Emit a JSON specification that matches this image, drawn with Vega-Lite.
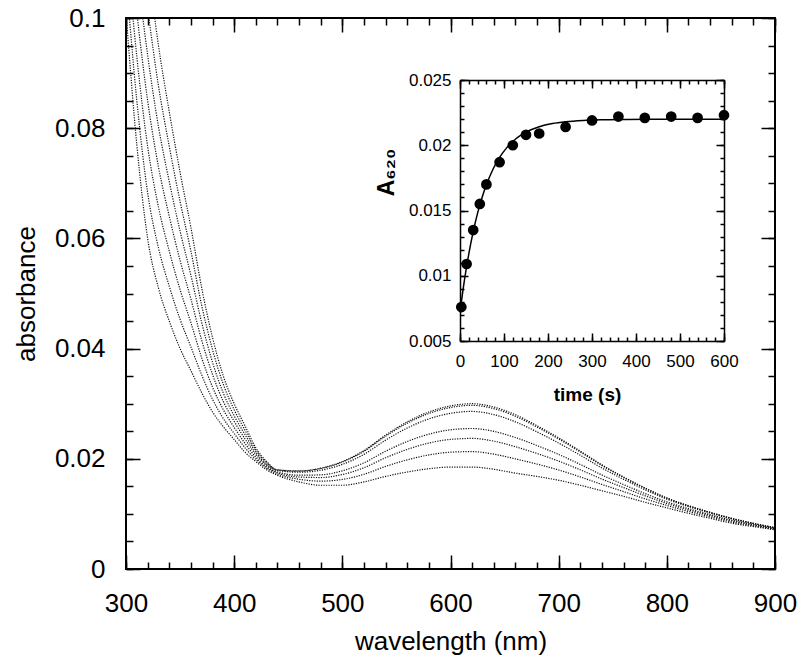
{
  "$schema": "https://vega.github.io/schema/vega-lite/v6.json",
  "width": 649,
  "height": 551,
  "autosize": {"type": "none"},
  "padding": {"left": 126, "top": 18, "right": 25, "bottom": 97},
  "background": "white",
  "datasets": {
    "spec": [
      {"w":300,"c1":0.101,"c2":0.1075,"c3":0.114,"c4":0.1205,"c5":0.127,"c6":0.1335,"c7":0.140},
      {"w":310,"c1":0.077,"c2":0.085,"c3":0.093,"c4":0.101,"c5":0.109,"c6":0.117,"c7":0.125},
      {"w":320,"c1":0.060,"c2":0.0683,"c3":0.0767,"c4":0.085,"c5":0.0933,"c6":0.1017,"c7":0.110},
      {"w":330,"c1":0.051,"c2":0.0583,"c3":0.0657,"c4":0.073,"c5":0.0803,"c6":0.0877,"c7":0.095},
      {"w":340,"c1":0.045,"c2":0.0513,"c3":0.0577,"c4":0.064,"c5":0.0703,"c6":0.0767,"c7":0.083},
      {"w":350,"c1":0.040,"c2":0.0453,"c3":0.0507,"c4":0.056,"c5":0.0613,"c6":0.0667,"c7":0.072},
      {"w":360,"c1":0.036,"c2":0.0403,"c3":0.0447,"c4":0.049,"c5":0.0533,"c6":0.0577,"c7":0.062},
      {"w":370,"c1":0.032,"c2":0.0352,"c3":0.0383,"c4":0.0415,"c5":0.0447,"c6":0.0478,"c7":0.051},
      {"w":380,"c1":0.0285,"c2":0.0308,"c3":0.033,"c4":0.0353,"c5":0.0375,"c6":0.0398,"c7":0.042},
      {"w":390,"c1":0.0258,"c2":0.0273,"c3":0.0289,"c4":0.0304,"c5":0.0319,"c6":0.0335,"c7":0.035},
      {"w":400,"c1":0.0235,"c2":0.0246,"c3":0.0257,"c4":0.0268,"c5":0.0278,"c6":0.0289,"c7":0.030},
      {"w":410,"c1":0.0212,"c2":0.022,"c3":0.0228,"c4":0.0236,"c5":0.0244,"c6":0.0252,"c7":0.026},
      {"w":420,"c1":0.0195,"c2":0.0199,"c3":0.0203,"c4":0.0208,"c5":0.0212,"c6":0.0216,"c7":0.022},
      {"w":430,"c1":0.018,"c2":0.0183,"c3":0.0185,"c4":0.0188,"c5":0.019,"c6":0.0193,"c7":0.0195},
      {"w":440,"c1":0.0170,"c2":0.01724,"c3":0.01745,"c4":0.01761,"c5":0.01788,"c6":0.01797,"c7":0.0180},
      {"w":460,"c1":0.0158,"c2":0.01629,"c3":0.0167,"c4":0.01702,"c5":0.01756,"c6":0.01775,"c7":0.0178},
      {"w":480,"c1":0.0152,"c2":0.01595,"c3":0.0166,"c4":0.01709,"c5":0.01792,"c6":0.01822,"c7":0.0183},
      {"w":500,"c1":0.0152,"c2":0.01625,"c3":0.01714,"c4":0.01782,"c5":0.01898,"c6":0.01939,"c7":0.0195},
      {"w":520,"c1":0.0158,"c2":0.01719,"c3":0.01838,"c4":0.01927,"c5":0.0208,"c6":0.02135,"c7":0.0215},
      {"w":540,"c1":0.0168,"c2":0.01862,"c3":0.02019,"c4":0.02137,"c5":0.02339,"c6":0.0241,"c7":0.0243},
      {"w":560,"c1":0.0176,"c2":0.01981,"c3":0.02171,"c4":0.02314,"c5":0.02559,"c6":0.02646,"c7":0.0267},
      {"w":580,"c1":0.0182,"c2":0.0207,"c3":0.02286,"c4":0.02447,"c5":0.02724,"c6":0.02823,"c7":0.0285},
      {"w":600,"c1":0.0185,"c2":0.0212,"c3":0.02352,"c4":0.02526,"c5":0.02825,"c6":0.02931,"c7":0.0296},
      {"w":620,"c1":0.0185,"c2":0.0213,"c3":0.0237,"c4":0.0255,"c5":0.0286,"c6":0.0297,"c7":0.0300},
      {"w":640,"c1":0.0181,"c2":0.02085,"c3":0.02321,"c4":0.02498,"c5":0.02802,"c6":0.02911,"c7":0.0294},
      {"w":660,"c1":0.0174,"c2":0.01998,"c3":0.02219,"c4":0.02386,"c5":0.02671,"c6":0.02772,"c7":0.0280},
      {"w":680,"c1":0.0168,"c2":0.01904,"c3":0.02096,"c4":0.0224,"c5":0.02488,"c6":0.02576,"c7":0.0260},
      {"w":700,"c1":0.0161,"c2":0.01797,"c3":0.01958,"c4":0.02079,"c5":0.02286,"c6":0.0236,"c7":0.0238},
      {"w":720,"c1":0.0152,"c2":0.01671,"c3":0.018,"c4":0.01898,"c5":0.02064,"c6":0.02124,"c7":0.0214},
      {"w":740,"c1":0.0142,"c2":0.01534,"c3":0.01632,"c4":0.01706,"c5":0.01833,"c6":0.01878,"c7":0.0189},
      {"w":760,"c1":0.0132,"c2":0.01405,"c3":0.01478,"c4":0.01533,"c5":0.01627,"c6":0.01661,"c7":0.0167},
      {"w":780,"c1":0.0121,"c2":0.01273,"c3":0.01328,"c4":0.01368,"c5":0.01438,"c6":0.01463,"c7":0.0147},
      {"w":800,"c1":0.0111,"c2":0.01154,"c3":0.01191,"c4":0.0122,"c5":0.01268,"c6":0.01285,"c7":0.0129},
      {"w":820,"c1":0.0101,"c2":0.01044,"c3":0.01073,"c4":0.01095,"c5":0.01133,"c6":0.01146,"c7":0.0115},
      {"w":840,"c1":0.0092,"c2":0.00947,"c3":0.0097,"c4":0.00987,"c5":0.01017,"c6":0.01027,"c7":0.0103},
      {"w":860,"c1":0.0083,"c2":0.00852,"c3":0.00871,"c4":0.00885,"c5":0.00909,"c6":0.00918,"c7":0.0092},
      {"w":880,"c1":0.0077,"c2":0.00785,"c3":0.00797,"c4":0.00807,"c5":0.00823,"c6":0.00828,"c7":0.0083},
      {"w":900,"c1":0.0071,"c2":0.0072,"c3":0.00728,"c4":0.00734,"c5":0.00745,"c6":0.00749,"c7":0.0075}
    ],
    "pts": [
      {"t":3,"A":0.0076},{"t":15,"A":0.0109},{"t":30,"A":0.0135},{"t":45,"A":0.0155},
      {"t":60,"A":0.0170},{"t":90,"A":0.0187},{"t":120,"A":0.0200},{"t":150,"A":0.0208},
      {"t":180,"A":0.0209},{"t":240,"A":0.0214},{"t":300,"A":0.0219},{"t":360,"A":0.0222},
      {"t":420,"A":0.0221},{"t":480,"A":0.0222},{"t":540,"A":0.0221},{"t":600,"A":0.0223}
    ],
    "fit": [
      {"t":0,"A":0.0072},{"t":10,"A":0.00964},{"t":20,"A":0.01167},{"t":30,"A":0.01338},
      {"t":40,"A":0.0148},{"t":50,"A":0.01598},{"t":60,"A":0.01697},{"t":75,"A":0.01816},
      {"t":90,"A":0.01907},{"t":105,"A":0.01976},{"t":120,"A":0.02029},{"t":140,"A":0.02081},
      {"t":160,"A":0.02117},{"t":180,"A":0.02142},{"t":210,"A":0.02166},{"t":240,"A":0.0218},
      {"t":280,"A":0.0219},{"t":320,"A":0.02195},{"t":380,"A":0.02198},{"t":450,"A":0.022},
      {"t":600,"A":0.022}
    ]
  },
  "layer": [
    {
      "data": {"name": "spec"},
      "transform": [{"fold": ["c1","c2","c3","c4","c5","c6","c7"], "as": ["curve","a"]}],
      "mark": {"type": "line", "clip": true, "strokeDash": [1.2, 1.3], "strokeWidth": 1.2, "color": "#111", "interpolate": "monotone"},
      "encoding": {
        "x": {"field": "w", "type": "quantitative", "scale": {"domain": [300, 900], "nice": false, "zero": false},
          "axis": {"orient": "bottom", "values": [300,400,500,600,700,800,900], "tickSize": -14, "labelPadding": 35, "format": "~r",
            "labelFontSize": 26, "title": "wavelength (nm)", "titleFontSize": 26, "titleFontWeight": "normal", "titlePadding": 12}},
        "y": {"field": "a", "type": "quantitative", "scale": {"domain": [0, 0.1], "nice": false, "zero": false},
          "axis": {"orient": "left", "values": [0,0.02,0.04,0.06,0.08,0.1], "tickSize": -14, "labelPadding": 35, "format": "~r",
            "labelFontSize": 26, "title": "absorbance", "titleFontSize": 26, "titleFontWeight": "normal", "titlePadding": 15}},
        "detail": {"field": "curve"}
      }
    },
    {
      "data": {"name": "spec"},
      "mark": {"type": "point", "opacity": 0},
      "encoding": {
        "x": {"field": "w", "type": "quantitative", "scale": {"domain": [300, 900], "nice": false, "zero": false},
          "axis": {"orient": "bottom", "values": [300,320,340,360,380,400,420,440,460,480,500,520,540,560,580,600,620,640,660,680,700,720,740,760,780,800,820,840,860,880,900], "tickSize": -7, "labels": false, "title": null}},
        "y": {"field": "c1", "type": "quantitative", "scale": {"domain": [0, 0.1], "nice": false, "zero": false},
          "axis": {"orient": "left", "values": [0,0.005,0.01,0.015,0.02,0.025,0.03,0.035,0.04,0.045,0.05,0.055,0.06,0.065,0.07,0.075,0.08,0.085,0.09,0.095,0.1], "tickSize": -7, "labels": false, "title": null}}
      }
    },
    {
      "data": {"name": "spec"},
      "mark": {"type": "point", "opacity": 0},
      "encoding": {
        "x": {"field": "w", "type": "quantitative", "scale": {"domain": [300, 900], "nice": false, "zero": false},
          "axis": {"orient": "top", "values": [300,400,500,600,700,800,900], "tickSize": -14, "labels": false, "title": null}},
        "y": {"field": "c1", "type": "quantitative", "scale": {"domain": [0, 0.1], "nice": false, "zero": false},
          "axis": {"orient": "right", "values": [0,0.02,0.04,0.06,0.08,0.1], "tickSize": -14, "labels": false, "title": null}}
      }
    },
    {
      "data": {"name": "spec"},
      "mark": {"type": "point", "opacity": 0},
      "encoding": {
        "x": {"field": "w", "type": "quantitative", "scale": {"domain": [300, 900], "nice": false, "zero": false},
          "axis": {"orient": "top", "values": [300,320,340,360,380,400,420,440,460,480,500,520,540,560,580,600,620,640,660,680,700,720,740,760,780,800,820,840,860,880,900], "tickSize": -7, "labels": false, "title": null}},
        "y": {"field": "c1", "type": "quantitative", "scale": {"domain": [0, 0.1], "nice": false, "zero": false},
          "axis": {"orient": "right", "values": [0,0.005,0.01,0.015,0.02,0.025,0.03,0.035,0.04,0.045,0.05,0.055,0.06,0.065,0.07,0.075,0.08,0.085,0.09,0.095,0.1], "tickSize": -7, "labels": false, "title": null}}
      }
    },
    {
      "data": {"name": "fit"},
      "mark": {"type": "line", "color": "black", "strokeWidth": 1.5, "interpolate": "monotone"},
      "encoding": {
        "x": {"field": "t", "type": "quantitative", "scale": {"domain": [0, 600], "range": [334, 598], "nice": false, "zero": false},
          "axis": {"orient": "bottom", "offset": -228, "domain": true, "values": [0,100,200,300,400,500,600], "tickSize": -8, "labelPadding": 20, "format": "~r",
            "labelFontSize": 17, "title": "time (s)", "titleFontSize": 19, "titleFontWeight": "bold", "titlePadding": 16, "titleX": 461}},
        "y": {"field": "A", "type": "quantitative", "scale": {"domain": [0.005, 0.025], "range": [323, 62], "nice": false, "zero": false},
          "axis": {"orient": "left", "offset": -334, "domain": true, "values": [0.005,0.01,0.015,0.02,0.025], "tickSize": -8, "labelPadding": 17, "format": "~r",
            "labelFontSize": 17, "title": "A₆₂₀", "titleFontSize": 23, "titleFontWeight": "bold", "titlePadding": 10, "titleY": 154}}
      }
    },
    {
      "data": {"name": "pts"},
      "mark": {"type": "circle", "color": "black", "opacity": 1, "size": 115},
      "encoding": {
        "x": {"field": "t", "type": "quantitative", "scale": {"domain": [0, 600], "range": [334, 598], "nice": false, "zero": false}, "axis": null},
        "y": {"field": "A", "type": "quantitative", "scale": {"domain": [0.005, 0.025], "range": [323, 62], "nice": false, "zero": false}, "axis": null}
      }
    },
    {
      "data": {"name": "fit"},
      "mark": {"type": "point", "opacity": 0},
      "encoding": {
        "x": {"field": "t", "type": "quantitative", "scale": {"domain": [0, 600], "range": [334, 598], "nice": false, "zero": false},
          "axis": {"orient": "bottom", "offset": -228, "values": [0,20,40,60,80,100,120,140,160,180,200,220,240,260,280,300,320,340,360,380,400,420,440,460,480,500,520,540,560,580,600], "tickSize": -4, "labels": false, "title": null}},
        "y": {"field": "A", "type": "quantitative", "scale": {"domain": [0.005, 0.025], "range": [323, 62], "nice": false, "zero": false},
          "axis": {"orient": "left", "offset": -334, "values": [0.005,0.006,0.007,0.008,0.009,0.01,0.011,0.012,0.013,0.014,0.015,0.016,0.017,0.018,0.019,0.02,0.021,0.022,0.023,0.024,0.025], "tickSize": -4, "labels": false, "title": null}}
      }
    },
    {
      "data": {"name": "fit"},
      "mark": {"type": "point", "opacity": 0},
      "encoding": {
        "x": {"field": "t", "type": "quantitative", "scale": {"domain": [0, 600], "range": [334, 598], "nice": false, "zero": false},
          "axis": {"orient": "top", "offset": -62, "domain": true, "values": [0,100,200,300,400,500,600], "tickSize": -8, "labels": false, "title": null}},
        "y": {"field": "A", "type": "quantitative", "scale": {"domain": [0.005, 0.025], "range": [323, 62], "nice": false, "zero": false},
          "axis": {"orient": "right", "offset": -51, "domain": true, "values": [0.005,0.01,0.015,0.02,0.025], "tickSize": -8, "labels": false, "title": null}}
      }
    },
    {
      "data": {"name": "fit"},
      "mark": {"type": "point", "opacity": 0},
      "encoding": {
        "x": {"field": "t", "type": "quantitative", "scale": {"domain": [0, 600], "range": [334, 598], "nice": false, "zero": false},
          "axis": {"orient": "top", "offset": -62, "values": [0,20,40,60,80,100,120,140,160,180,200,220,240,260,280,300,320,340,360,380,400,420,440,460,480,500,520,540,560,580,600], "tickSize": -4, "labels": false, "title": null}},
        "y": {"field": "A", "type": "quantitative", "scale": {"domain": [0.005, 0.025], "range": [323, 62], "nice": false, "zero": false},
          "axis": {"orient": "right", "offset": -51, "values": [0.005,0.006,0.007,0.008,0.009,0.01,0.011,0.012,0.013,0.014,0.015,0.016,0.017,0.018,0.019,0.02,0.021,0.022,0.023,0.024,0.025], "tickSize": -4, "labels": false, "title": null}}
      }
    }
  ],
  "resolve": {
    "scale": {"x": "independent", "y": "independent"},
    "axis": {"x": "independent", "y": "independent"}
  },
  "config": {
    "font": "Liberation Sans",
    "view": {"stroke": "black", "strokeWidth": 2},
    "axis": {
      "grid": false, "domain": false, "labelFont": "Liberation Sans", "titleFont": "Liberation Sans",
      "labelColor": "black", "titleColor": "black", "tickColor": "black", "domainColor": "black",
      "tickWidth": 1.5, "domainWidth": 1.5, "labelFlush": false, "labelOverlap": false
    }
  }
}
